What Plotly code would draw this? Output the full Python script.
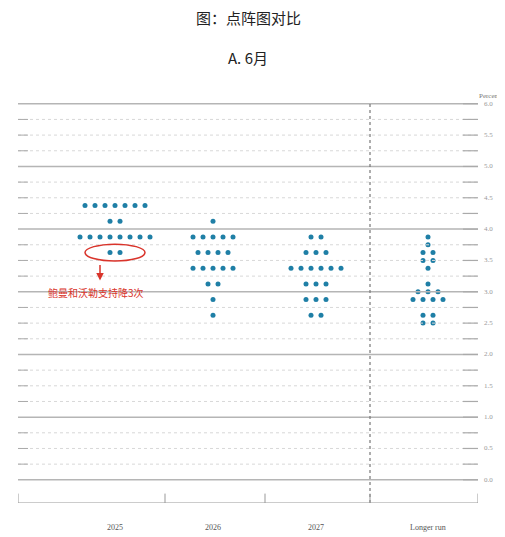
import plotly.graph_objects as go

# dot plot data: (rate, number of participants) per column
years = ["2025", "2026", "2027", "Longer run"]
dots_2025 = [(4.375, 7), (4.125, 2), (3.875, 8), (3.625, 2)]
dots_2026 = [(4.125, 1), (3.875, 5), (3.625, 4), (3.375, 5), (3.125, 2), (2.875, 1), (2.625, 1)]
dots_2027 = [(3.875, 2), (3.625, 3), (3.375, 6), (3.125, 3), (2.875, 3), (2.625, 2)]
dots_long = [(3.875, 1), (3.75, 1), (3.625, 2), (3.5, 2), (3.375, 1), (3.125, 1),
             (3.0, 3), (2.875, 4), (2.625, 2), (2.5, 2)]
tick_labels = ["0.0", "0.5", "1.0", "1.5", "2.0", "2.5", "3.0", "3.5", "4.0", "4.5", "5.0", "5.5", "6.0"]

col_pos = [0.97, 1.95, 2.98, 4.1]
all_dots = [dots_2025, dots_2026, dots_2027, dots_long]
step = 0.1

xs, ys = [], []
for pos, col in zip(col_pos, all_dots):
    for rate, n in col:
        for i in range(n):
            xs.append(pos + (i - (n - 1) / 2) * step)
            ys.append(rate)

fig = go.Figure()
fig.add_trace(go.Scatter(x=xs, y=ys, mode="markers",
                         marker=dict(color="#1f7fa6", size=5), hoverinfo="skip"))

x0, x1 = 0.0, 4.6
ybot = -0.37
shapes = []
for k in range(25):
    v = k * 0.25
    if k % 4 == 0:
        shapes.append(dict(type="line", x0=x0, x1=x1, y0=v, y1=v,
                           line=dict(color="#b5b5b5", width=1.5)))
    else:
        shapes.append(dict(type="line", x0=x0, x1=x1, y0=v, y1=v,
                           line=dict(color="#d8d8d8", width=1, dash="dot")))
        shapes.append(dict(type="line", x0=x0, x1=x0 + 0.1, y0=v, y1=v,
                           line=dict(color="#aaaaaa", width=1)))
    shapes.append(dict(type="line", x0=x1 - 0.15, x1=x1, y0=v, y1=v,
                       line=dict(color="#aaaaaa", width=1.2)))
# vertical dashed separator
shapes.append(dict(type="line", x0=3.52, x1=3.52, y0=ybot, y1=6.0,
                   line=dict(color="#777777", width=1.2, dash="dot")))
# bottom axis
shapes.append(dict(type="line", x0=x0, x1=x1, y0=ybot, y1=ybot,
                   line=dict(color="#999999", width=1)))
for tx in [x0, 1.47, 2.47, 3.52, x1]:
    shapes.append(dict(type="line", x0=tx, x1=tx, y0=ybot, y1=ybot + 0.15,
                       line=dict(color="#999999", width=1)))
# red ellipse
shapes.append(dict(type="circle", x0=0.67, x1=1.27, y0=3.49, y1=3.76,
                   line=dict(color="#d9342b", width=1.5)))

annotations = []
for k, t in enumerate(tick_labels):
    annotations.append(dict(x=1, xref="paper", xshift=4, y=k * 0.5, text=t, showarrow=False,
                            xanchor="left",
                            font=dict(family="Liberation Serif", size=7, color="#999999")))
annotations.append(dict(x=1, xref="paper", xshift=24, y=6.0, yshift=2, text="Percent",
                        showarrow=False, xanchor="right", yanchor="bottom",
                        font=dict(family="Liberation Serif", size=7, color="#777777")))
for pos, name in zip(col_pos, years):
    annotations.append(dict(x=pos, y=ybot, yshift=-24, text=name, showarrow=False,
                            font=dict(family="Liberation Serif", size=8, color="#555555")))
annotations.append(dict(x=0.82, y=3.18, ax=0.82, ay=3.45, axref="x", ayref="y",
                        showarrow=True, arrowhead=2, arrowsize=1, arrowwidth=1.5,
                        arrowcolor="#d9342b", text=""))
annotations.append(dict(x=0.28, y=2.99, text="鲍曼和沃勒支持降3次", showarrow=False, xanchor="left",
                        font=dict(family="Noto Sans CJK SC", size=10, color="#d9342b")))
annotations.append(dict(x=0.5, y=1, yref="paper", xref="paper", yshift=95, text="图：点阵图对比",
                        showarrow=False, font=dict(family="Noto Sans CJK SC", size=15, color="#222222")))
annotations.append(dict(x=0.5, y=1, yref="paper", xref="paper", yshift=55, text="A. 6月",
                        showarrow=False, font=dict(family="Noto Sans CJK SC", size=15, color="#222222")))

fig.update_layout(
    width=505, height=537, margin=dict(l=10, r=35, t=92, b=42),
    plot_bgcolor="white", paper_bgcolor="white", showlegend=False,
    xaxis=dict(range=[x0, x1], visible=False, fixedrange=True),
    yaxis=dict(range=[ybot, 6.06], visible=False, fixedrange=True),
    shapes=shapes, annotations=annotations,
)
fig.write_html("out.html")
